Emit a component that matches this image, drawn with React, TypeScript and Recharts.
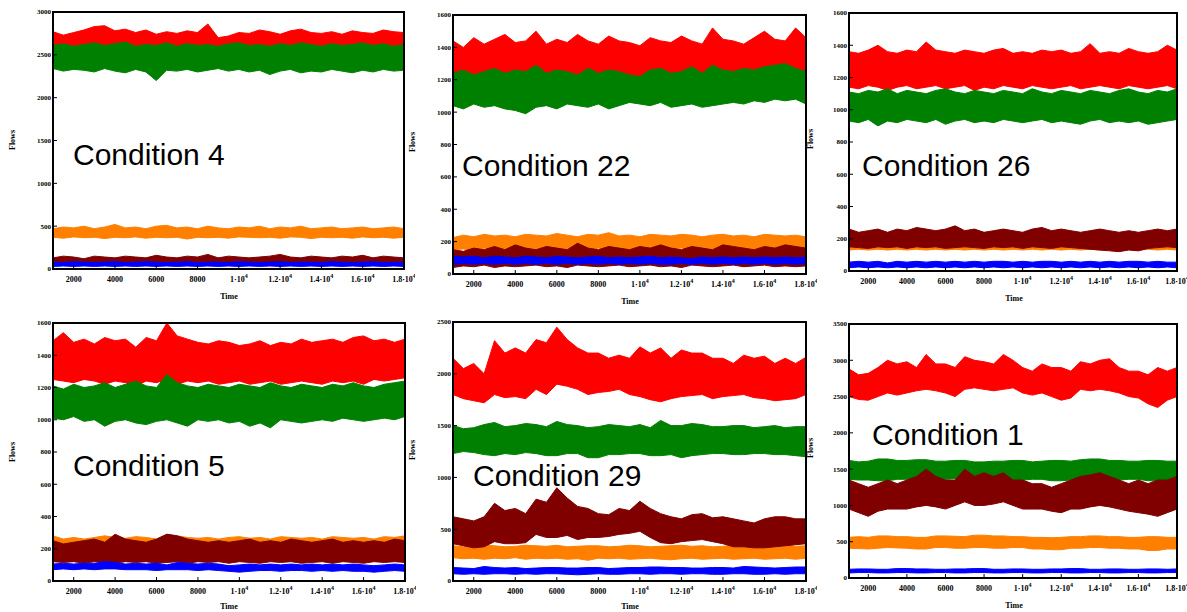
import { Area, ComposedChart, XAxis, YAxis } from "recharts";

// sample times (x axis)
const times = [1000, 1500, 2000, 2500, 3000, 3500, 4000, 4500, 5000, 5500, 6000, 6500, 7000, 7500, 8000, 8500, 9000, 9500, 10000, 10500, 11000, 11500, 12000, 12500, 13000, 13500, 14000, 14500, 15000, 15500, 16000, 16500, 17000, 17500, 18000];
const timeTicks = [2000, 4000, 6000, 8000, 10000, 12000, 14000, 16000, 18000];

// each flow is a noisy band: low and high edge read at each sample time

// Condition 4
const c4RedLo = [2550, 2560, 2540, 2570, 2550, 2540, 2560, 2550, 2540, 2570, 2550, 2560, 2540, 2550, 2570, 2560, 2540, 2550, 2560, 2540, 2570, 2550, 2560, 2540, 2550, 2570, 2560, 2540, 2550, 2560, 2540, 2570, 2550, 2560, 2550];
const c4RedHi = [2770, 2730, 2760, 2790, 2830, 2840, 2780, 2800, 2760, 2790, 2740, 2770, 2750, 2780, 2760, 2860, 2700, 2720, 2760, 2750, 2790, 2770, 2740, 2780, 2800, 2760, 2750, 2770, 2740, 2780, 2760, 2750, 2790, 2770, 2760];
const c4GreenLo = [2340, 2310, 2330, 2320, 2300, 2340, 2310, 2290, 2330, 2300, 2200, 2320, 2310, 2330, 2300, 2320, 2340, 2310, 2330, 2300, 2320, 2270, 2310, 2330, 2290, 2310, 2300, 2330, 2310, 2290, 2320, 2300, 2330, 2310, 2320];
const c4GreenHi = [2610, 2630, 2600, 2620, 2640, 2610, 2630, 2650, 2600, 2620, 2610, 2640, 2600, 2630, 2610, 2620, 2600, 2630, 2640, 2610, 2620, 2600, 2630, 2610, 2640, 2620, 2600, 2630, 2610, 2620, 2640, 2610, 2630, 2600, 2620];
const c4OrangeLo = [370, 360, 375, 365, 370, 355, 370, 365, 375, 360, 370, 365, 370, 350, 370, 365, 370, 360, 375, 370, 365, 370, 360, 375, 370, 355, 370, 365, 370, 360, 375, 365, 370, 360, 370];
const c4OrangeHi = [470, 490, 480, 500, 470, 490, 520, 480, 490, 470, 500, 510, 480, 490, 470, 500, 480, 470, 490, 480, 500, 470, 490, 480, 500, 470, 480, 490, 470, 480, 490, 470, 480, 490, 470];
const c4MaroonLo = [55, 60, 50, 60, 55, 50, 60, 55, 60, 50, 55, 60, 50, 60, 55, 50, 60, 55, 50, 60, 55, 50, 60, 55, 60, 50, 55, 60, 50, 55, 60, 50, 55, 60, 55];
const c4MaroonHi = [130, 150, 140, 120, 150, 140, 130, 150, 140, 130, 160, 140, 130, 150, 140, 170, 130, 150, 140, 130, 140, 150, 170, 140, 130, 150, 140, 130, 150, 140, 160, 130, 150, 140, 130];
const c4BlueLo = [30, 35, 30, 35, 30, 35, 30, 35, 30, 35, 30, 35, 30, 35, 30, 35, 30, 35, 30, 35, 30, 35, 30, 35, 30, 35, 30, 35, 30, 35, 30, 35, 30, 35, 30];
const c4BlueHi = [80, 75, 85, 80, 75, 80, 85, 75, 80, 85, 80, 75, 80, 85, 75, 80, 80, 75, 85, 80, 75, 80, 85, 75, 80, 80, 75, 85, 80, 75, 80, 85, 75, 80, 80];

// Condition 22
const c22RedLo = [1210, 1220, 1200, 1230, 1210, 1200, 1220, 1210, 1230, 1200, 1210, 1220, 1200, 1230, 1210, 1200, 1220, 1190, 1210, 1220, 1230, 1210, 1200, 1220, 1210, 1200, 1230, 1210, 1220, 1200, 1230, 1220, 1210, 1200, 1220];
const c22RedHi = [1440, 1400, 1460, 1420, 1450, 1480, 1430, 1440, 1500, 1420, 1450, 1430, 1480, 1440, 1420, 1470, 1440, 1430, 1410, 1460, 1440, 1430, 1470, 1440, 1420, 1520, 1450, 1440, 1420, 1460, 1500, 1450, 1440, 1520, 1460];
const c22GreenLo = [1040, 1020, 1050, 1030, 1040, 1020, 1010, 990, 1030, 1040, 1020, 1050, 1040, 1030, 1050, 1020, 1040, 1060, 1050, 1040, 1060, 1030, 1040, 1050, 1030, 1040, 1050, 1060, 1050, 1070, 1060, 1080, 1070, 1080, 1050];
const c22GreenHi = [1240, 1260, 1230, 1250, 1270, 1240, 1260, 1250, 1290, 1240, 1260, 1250, 1230, 1270, 1240, 1260, 1250, 1230, 1220, 1260, 1270, 1240, 1250, 1280, 1240, 1290, 1260, 1250, 1270, 1260, 1280, 1290, 1300, 1270, 1250];
const c22OrangeLo = [150, 155, 145, 160, 150, 155, 150, 160, 155, 150, 160, 150, 155, 145, 160, 150, 155, 150, 160, 155, 150, 155, 160, 150, 155, 150, 160, 155, 150, 155, 160, 150, 155, 150, 155];
const c22OrangeHi = [225, 240, 230, 245, 235, 240, 230, 245, 240, 235, 250, 240, 230, 245, 240, 255, 235, 240, 230, 245, 240, 235, 245, 240, 230, 240, 245, 235, 240, 230, 245, 240, 235, 240, 230];
const c22MaroonLo = [40, 50, 45, 55, 40, 50, 45, 50, 55, 45, 50, 40, 55, 50, 45, 50, 55, 45, 50, 55, 45, 50, 40, 55, 50, 45, 50, 55, 45, 50, 55, 45, 50, 45, 50];
const c22MaroonHi = [150, 140, 160, 150, 170, 150, 180, 160, 150, 170, 160, 150, 190, 160, 150, 170, 160, 150, 170, 160, 180, 160, 150, 170, 160, 150, 180, 170, 160, 150, 170, 160, 180, 170, 160];
const c22BlueLo = [60, 65, 60, 65, 60, 65, 60, 65, 60, 65, 60, 65, 60, 65, 60, 65, 60, 65, 60, 65, 60, 60, 65, 60, 65, 60, 65, 60, 65, 60, 65, 60, 65, 60, 65];
const c22BlueHi = [110, 105, 110, 100, 110, 105, 100, 110, 105, 100, 110, 105, 100, 105, 110, 100, 105, 100, 105, 110, 100, 105, 100, 95, 105, 100, 105, 100, 105, 100, 105, 100, 105, 100, 105];

// Condition 26
const c26RedLo = [1140, 1130, 1150, 1140, 1120, 1140, 1150, 1130, 1140, 1150, 1130, 1140, 1150, 1120, 1140, 1130, 1150, 1140, 1130, 1150, 1140, 1130, 1140, 1150, 1130, 1140, 1150, 1140, 1130, 1150, 1140, 1130, 1140, 1150, 1130];
const c26RedHi = [1360, 1350, 1370, 1400, 1360, 1350, 1370, 1360, 1420, 1370, 1360, 1350, 1370, 1360, 1350, 1370, 1380, 1350, 1360, 1350, 1370, 1360, 1370, 1350, 1360, 1410, 1350, 1360, 1350, 1380, 1360, 1350, 1360, 1400, 1370];
const c26GreenLo = [930, 920, 940, 900, 930, 920, 940, 930, 920, 940, 910, 930, 940, 920, 930, 920, 940, 930, 920, 930, 940, 920, 930, 920, 910, 930, 940, 920, 930, 920, 930, 910, 920, 930, 940];
const c26GreenHi = [1110, 1100, 1120, 1110, 1130, 1100, 1120, 1110, 1100, 1120, 1130, 1110, 1100, 1120, 1110, 1100, 1120, 1110, 1100, 1130, 1110, 1100, 1120, 1110, 1100, 1120, 1110, 1100, 1120, 1130, 1110, 1100, 1120, 1110, 1130];
const c26OrangeLo = [130, 135, 130, 135, 130, 135, 130, 135, 130, 135, 130, 135, 130, 135, 130, 135, 130, 135, 130, 135, 130, 135, 130, 135, 130, 135, 130, 135, 130, 135, 130, 135, 130, 135, 130];
const c26OrangeHi = [170, 165, 170, 160, 170, 165, 170, 160, 170, 165, 170, 160, 165, 170, 160, 170, 165, 170, 160, 170, 165, 170, 160, 165, 170, 165, 160, 170, 165, 170, 165, 170, 160, 165, 170];
const c26MaroonLo = [150, 145, 140, 150, 145, 150, 140, 150, 145, 150, 140, 145, 150, 145, 140, 150, 145, 150, 140, 150, 145, 140, 150, 145, 140, 135, 130, 125, 120, 130, 125, 140, 145, 150, 145];
const c26MaroonHi = [260, 240, 250, 260, 240, 260, 250, 270, 260, 250, 260, 280, 250, 260, 240, 250, 260, 250, 240, 260, 270, 250, 260, 250, 240, 250, 260, 250, 240, 250, 240, 250, 260, 250, 260];
const c26BlueLo = [20, 25, 20, 25, 20, 25, 20, 25, 20, 25, 20, 25, 20, 25, 20, 25, 20, 25, 20, 25, 20, 25, 20, 25, 20, 25, 20, 25, 20, 25, 20, 25, 20, 25, 20];
const c26BlueHi = [55, 60, 55, 60, 50, 60, 55, 60, 55, 60, 55, 60, 55, 60, 55, 60, 60, 55, 60, 55, 60, 60, 55, 60, 55, 60, 55, 60, 55, 60, 60, 55, 60, 55, 55];

// Condition 5
const c5RedLo = [1250, 1240, 1230, 1250, 1240, 1220, 1240, 1230, 1210, 1240, 1230, 1250, 1220, 1240, 1230, 1240, 1220, 1230, 1240, 1220, 1230, 1240, 1220, 1230, 1240, 1230, 1220, 1240, 1230, 1240, 1220, 1250, 1240, 1250, 1260];
const c5RedHi = [1490, 1540, 1480, 1500, 1470, 1510, 1490, 1500, 1450, 1510, 1490, 1600, 1520, 1500, 1480, 1470, 1490, 1480, 1460, 1470, 1490, 1460, 1480, 1470, 1500, 1480, 1490, 1500, 1480, 1510, 1520, 1490, 1500, 1480, 1500];
const c5GreenLo = [1010, 1000, 1020, 990, 1000, 960, 990, 1000, 980, 970, 990, 1000, 980, 960, 1000, 990, 1000, 980, 990, 960, 980, 950, 1000, 990, 980, 990, 1000, 990, 1010, 1000, 990, 1000, 1010, 1000, 1020];
const c5GreenHi = [1210, 1190, 1220, 1200, 1210, 1230, 1200, 1220, 1240, 1210, 1200, 1280, 1230, 1210, 1200, 1220, 1210, 1200, 1220, 1210, 1200, 1230, 1210, 1200, 1220, 1210, 1200, 1220, 1210, 1230, 1210, 1200, 1220, 1230, 1240];
const c5OrangeLo = [210, 200, 210, 205, 210, 200, 205, 210, 200, 210, 205, 200, 210, 205, 200, 210, 205, 210, 200, 205, 210, 200, 205, 210, 200, 205, 210, 200, 205, 210, 200, 210, 205, 200, 210];
const c5OrangeHi = [280, 260, 270, 260, 270, 280, 270, 265, 275, 270, 260, 290, 280, 270, 265, 270, 260, 270, 275, 265, 270, 260, 275, 270, 265, 270, 260, 275, 270, 265, 270, 260, 275, 270, 280];
const c5MaroonLo = [120, 115, 120, 110, 120, 115, 110, 120, 115, 120, 110, 115, 120, 110, 120, 115, 120, 110, 120, 115, 110, 120, 115, 120, 110, 115, 120, 110, 120, 115, 110, 120, 115, 120, 115];
const c5MaroonHi = [250, 230, 240, 250, 260, 240, 290, 260, 250, 240, 260, 290, 280, 260, 250, 240, 250, 240, 250, 260, 240, 250, 240, 260, 250, 240, 250, 260, 240, 250, 240, 250, 240, 260, 250];
const c5BlueLo = [70, 75, 70, 75, 70, 75, 75, 70, 70, 70, 65, 70, 70, 70, 65, 70, 65, 60, 55, 60, 65, 65, 60, 65, 65, 60, 65, 60, 65, 60, 60, 55, 60, 65, 60];
const c5BlueHi = [105, 110, 105, 110, 110, 120, 115, 105, 110, 105, 110, 100, 115, 110, 105, 110, 105, 95, 100, 105, 100, 105, 100, 105, 100, 105, 100, 105, 100, 105, 100, 95, 100, 105, 100];

// Condition 29
const c29RedLo = [1800, 1760, 1740, 1720, 1800, 1770, 1780, 1760, 1850, 1800, 1900, 1880, 1850, 1800, 1820, 1830, 1850, 1800, 1780, 1750, 1730, 1760, 1780, 1790, 1800, 1760, 1780, 1790, 1800, 1770, 1760, 1740, 1750, 1760, 1800];
const c29RedHi = [2150, 2050, 2100, 2000, 2320, 2200, 2250, 2200, 2330, 2300, 2450, 2330, 2250, 2200, 2200, 2150, 2180, 2150, 2260, 2200, 2250, 2150, 2230, 2200, 2200, 2150, 2150, 2100, 2180, 2150, 2170, 2100, 2150, 2100, 2160];
const c29GreenLo = [1230, 1250, 1240, 1220, 1210, 1230, 1220, 1240, 1230, 1210, 1210, 1230, 1230, 1190, 1190, 1220, 1220, 1230, 1230, 1210, 1210, 1220, 1190, 1210, 1220, 1230, 1230, 1220, 1220, 1230, 1230, 1220, 1220, 1210, 1200];
const c29GreenHi = [1500, 1470, 1480, 1510, 1530, 1490, 1500, 1520, 1510, 1490, 1540, 1510, 1500, 1480, 1490, 1510, 1500, 1490, 1510, 1480, 1550, 1500, 1500, 1520, 1510, 1490, 1490, 1500, 1500, 1480, 1490, 1500, 1480, 1490, 1490];
const c29OrangeLo = [225, 215, 220, 210, 220, 215, 225, 210, 220, 215, 220, 210, 215, 200, 220, 215, 220, 210, 215, 220, 210, 205, 215, 220, 210, 215, 220, 210, 215, 220, 210, 215, 220, 210, 220];
const c29OrangeHi = [340, 330, 335, 345, 340, 330, 335, 345, 340, 335, 345, 330, 335, 340, 340, 330, 335, 345, 340, 330, 335, 340, 345, 335, 340, 330, 335, 345, 340, 330, 335, 340, 345, 335, 340];
const c29MaroonLo = [360, 340, 320, 330, 380, 360, 360, 370, 450, 420, 420, 440, 400, 420, 420, 430, 450, 460, 480, 420, 370, 360, 380, 390, 400, 380, 360, 330, 330, 320, 320, 330, 340, 350, 360];
const c29MaroonHi = [620, 600, 580, 620, 750, 680, 700, 650, 790, 760, 900, 800, 720, 700, 650, 640, 700, 680, 770, 700, 650, 620, 600, 640, 650, 610, 620, 600, 580, 560, 600, 620, 620, 600, 600];
const c29BlueLo = [70, 65, 70, 65, 70, 70, 65, 70, 65, 70, 70, 65, 60, 65, 70, 65, 65, 70, 70, 65, 70, 70, 65, 70, 70, 65, 65, 70, 70, 65, 65, 70, 65, 70, 70];
const c29BlueHi = [130, 125, 120, 140, 130, 125, 130, 120, 125, 130, 130, 125, 125, 130, 130, 120, 125, 130, 130, 135, 135, 130, 130, 125, 125, 130, 130, 125, 140, 135, 130, 125, 130, 135, 135];

// Condition 1
const c1RedLo = [2500, 2460, 2450, 2500, 2550, 2520, 2550, 2580, 2600, 2580, 2550, 2500, 2600, 2620, 2600, 2580, 2600, 2620, 2550, 2520, 2550, 2500, 2450, 2480, 2600, 2580, 2600, 2580, 2550, 2500, 2480, 2400, 2350, 2450, 2500];
const c1RedHi = [2880, 2800, 2820, 2900, 3000, 2950, 2980, 2900, 3080, 2950, 2950, 2900, 3050, 3000, 2980, 2950, 3080, 3000, 2900, 2850, 2950, 2900, 2900, 2850, 2980, 2950, 3000, 3020, 2900, 2850, 2850, 2800, 2900, 2850, 2900];
const c1GreenLo = [1360, 1350, 1350, 1340, 1340, 1360, 1360, 1350, 1350, 1360, 1360, 1370, 1370, 1350, 1350, 1360, 1360, 1350, 1350, 1360, 1360, 1340, 1340, 1350, 1350, 1360, 1360, 1350, 1350, 1360, 1360, 1340, 1340, 1350, 1350];
const c1GreenHi = [1620, 1600, 1610, 1640, 1640, 1620, 1620, 1630, 1630, 1610, 1610, 1620, 1620, 1600, 1600, 1610, 1610, 1620, 1620, 1600, 1610, 1620, 1620, 1610, 1630, 1640, 1640, 1620, 1620, 1610, 1610, 1620, 1620, 1610, 1610];
const c1OrangeLo = [410, 405, 400, 410, 420, 415, 410, 400, 400, 420, 420, 410, 410, 420, 420, 410, 410, 420, 420, 400, 400, 390, 390, 410, 410, 420, 420, 410, 410, 400, 400, 380, 380, 400, 400];
const c1OrangeHi = [560, 570, 560, 580, 580, 570, 570, 560, 560, 580, 580, 575, 570, 590, 590, 580, 580, 570, 570, 560, 560, 555, 560, 570, 570, 580, 580, 570, 570, 560, 560, 570, 570, 560, 560];
const c1MaroonLo = [950, 900, 850, 920, 950, 950, 950, 980, 1000, 980, 950, 1000, 1050, 1000, 1000, 1020, 1050, 1000, 950, 950, 950, 920, 900, 950, 950, 980, 1000, 980, 950, 920, 900, 880, 850, 900, 950];
const c1MaroonHi = [1350, 1300, 1250, 1300, 1350, 1300, 1350, 1400, 1500, 1400, 1350, 1350, 1500, 1400, 1450, 1400, 1450, 1350, 1350, 1300, 1300, 1250, 1300, 1350, 1400, 1420, 1450, 1400, 1350, 1300, 1350, 1300, 1350, 1350, 1400];
const c1BlueLo = [70, 75, 75, 70, 70, 75, 75, 70, 70, 75, 75, 70, 70, 75, 75, 70, 70, 75, 75, 70, 70, 75, 75, 70, 70, 75, 75, 70, 70, 75, 75, 70, 70, 75, 75];
const c1BlueHi = [120, 125, 125, 120, 120, 130, 130, 125, 125, 120, 120, 125, 125, 130, 130, 120, 120, 125, 125, 120, 120, 125, 125, 130, 130, 120, 120, 125, 125, 120, 120, 125, 125, 120, 125];

const COLORS: Record<string, string> = {
    red: "#ff0000",
    green: "#008000",
    orange: "#ff8000",
    maroon: "#800000",
    blue: "#0000ff",
};
// drawing order, later ones sit on top
const ORDER = ["red", "green", "orange", "maroon", "blue"];

const panels = [
    { title: "Condition 4", x: 53, y: 12, w: 351, h: 257, yMax: 3000, yTicks: [0, 500, 1000, 1500, 2000, 2500, 3000], titleAt: [73, 165], flowsAt: [13, 140], timeAt: [229, 297],
      lo: { red: c4RedLo, green: c4GreenLo, orange: c4OrangeLo, maroon: c4MaroonLo, blue: c4BlueLo },
      hi: { red: c4RedHi, green: c4GreenHi, orange: c4OrangeHi, maroon: c4MaroonHi, blue: c4BlueHi } },
    { title: "Condition 22", x: 453, y: 15, w: 353, h: 259, yMax: 1600, yTicks: [0, 200, 400, 600, 800, 1000, 1200, 1400, 1600], titleAt: [462, 176], flowsAt: [413, 142], timeAt: [630, 302],
      lo: { red: c22RedLo, green: c22GreenLo, orange: c22OrangeLo, maroon: c22MaroonLo, blue: c22BlueLo },
      hi: { red: c22RedHi, green: c22GreenHi, orange: c22OrangeHi, maroon: c22MaroonHi, blue: c22BlueHi } },
    { title: "Condition 26", x: 849, y: 13, w: 328, h: 258, yMax: 1600, yTicks: [0, 200, 400, 600, 800, 1000, 1200, 1400, 1600], titleAt: [862, 176], flowsAt: [811, 139], timeAt: [1014, 299],
      lo: { red: c26RedLo, green: c26GreenLo, orange: c26OrangeLo, maroon: c26MaroonLo, blue: c26BlueLo },
      hi: { red: c26RedHi, green: c26GreenHi, orange: c26OrangeHi, maroon: c26MaroonHi, blue: c26BlueHi } },
    { title: "Condition 5", x: 53, y: 323, w: 352, h: 258, yMax: 1600, yTicks: [0, 200, 400, 600, 800, 1000, 1200, 1400, 1600], titleAt: [73, 476], flowsAt: [13, 452], timeAt: [229, 607],
      lo: { red: c5RedLo, green: c5GreenLo, orange: c5OrangeLo, maroon: c5MaroonLo, blue: c5BlueLo },
      hi: { red: c5RedHi, green: c5GreenHi, orange: c5OrangeHi, maroon: c5MaroonHi, blue: c5BlueHi } },
    { title: "Condition 29", x: 453, y: 322, w: 353, h: 259, yMax: 2500, yTicks: [0, 500, 1000, 1500, 2000, 2500], titleAt: [473, 486], flowsAt: [413, 450], timeAt: [630, 607],
      lo: { red: c29RedLo, green: c29GreenLo, orange: c29OrangeLo, maroon: c29MaroonLo, blue: c29BlueLo },
      hi: { red: c29RedHi, green: c29GreenHi, orange: c29OrangeHi, maroon: c29MaroonHi, blue: c29BlueHi } },
    { title: "Condition 1", x: 849, y: 324, w: 328, h: 254, yMax: 3500, yTicks: [0, 500, 1000, 1500, 2000, 2500, 3000, 3500], titleAt: [872, 445], flowsAt: [811, 448], timeAt: [1014, 606],
      lo: { red: c1RedLo, green: c1GreenLo, orange: c1OrangeLo, maroon: c1MaroonLo, blue: c1BlueLo },
      hi: { red: c1RedHi, green: c1GreenHi, orange: c1OrangeHi, maroon: c1MaroonHi, blue: c1BlueHi } },
];

type PanelSpec = (typeof panels)[number];

const SERIF = "'Liberation Serif', 'Times New Roman', serif";
const SANS = "'Liberation Sans', Arial, sans-serif";

// one row per sample time, every flow as a [low, high] range
const buildRows = (p: PanelSpec) =>
    times.map((t, i) => {
        const row: Record<string, any> = { t };
        ORDER.forEach((k) => {
            row[k] = [(p.lo as any)[k][i], (p.hi as any)[k][i]];
        });
        return row;
    });

// built once so the charts get stable data
const panelRows = panels.map(buildRows);

// 2000 .. 8000 plain, from 1e4 on written as m·10^4
const TimeTick = ({ x, y, payload }: any) => {
    const v = payload.value as number;
    if (v < 10000) {
        return <text x={x} y={y + 13} textAnchor="middle" fontSize={8} fill="#000">{v}</text>;
    }
    return (
        <text x={x} y={y + 13} textAnchor="middle" fontSize={8} fill="#000">
            {`${v / 10000}·10`}
            <tspan dy={-4} fontSize={6}>4</tspan>
        </text>
    );
};

const FlowChart = ({ p, data }: { p: PanelSpec; data: any[] }) => {
    const line = { stroke: "#000", strokeWidth: 1.5 };
    const tickLine = { stroke: "#000", strokeWidth: 1 };
    return (
        <div style={{ position: "absolute", left: p.x - 50, top: p.y - 11, fontFamily: SERIF, fontWeight: 700 }}>
            <ComposedChart width={p.w + 61} height={p.h + 41} data={data} margin={{ top: 10, right: 10, bottom: 0, left: 0 }}>
                {ORDER.map((k) => (
                    <Area
                        key={k}
                        xAxisId="b"
                        yAxisId="l"
                        dataKey={k}
                        type="linear"
                        stroke={COLORS[k]}
                        strokeWidth={1}
                        fill={COLORS[k]}
                        fillOpacity={1}
                        dot={false}
                        activeDot={false}
                        isAnimationActive={false}
                    />
                ))}
                <XAxis
                    xAxisId="b"
                    dataKey="t"
                    type="number"
                    domain={[1000, 18000]}
                    ticks={timeTicks}
                    interval={0}
                    height={30}
                    stroke="#000"
                    tickSize={-4}
                    tickMargin={4}
                    axisLine={line}
                    tickLine={tickLine}
                    tick={<TimeTick />}
                />
                <XAxis
                    xAxisId="t"
                    orientation="top"
                    dataKey="t"
                    type="number"
                    domain={[1000, 18000]}
                    ticks={timeTicks}
                    interval={0}
                    height={1}
                    stroke="#000"
                    tickSize={-4}
                    axisLine={line}
                    tickLine={tickLine}
                    tick={false}
                />
                <YAxis
                    yAxisId="l"
                    type="number"
                    domain={[0, p.yMax]}
                    ticks={p.yTicks}
                    interval={0}
                    width={50}
                    stroke="#000"
                    tickSize={-4}
                    tickMargin={6}
                    axisLine={line}
                    tickLine={tickLine}
                    tick={{ fontSize: 7, fill: "#000" }}
                />
                <YAxis
                    yAxisId="r"
                    orientation="right"
                    type="number"
                    domain={[0, p.yMax]}
                    ticks={p.yTicks}
                    interval={0}
                    width={1}
                    stroke="#000"
                    tickSize={-4}
                    axisLine={line}
                    tickLine={tickLine}
                    tick={false}
                />
            </ComposedChart>
            <div style={{ position: "absolute", left: p.titleAt[0] - p.x + 50, top: p.titleAt[1] - p.y + 11 - 25.4, fontFamily: SANS, fontWeight: 400, fontSize: 30, lineHeight: "30px", whiteSpace: "nowrap", color: "#000" }}>
                {p.title}
            </div>
            <div style={{ position: "absolute", left: p.flowsAt[0] - p.x + 50, top: p.flowsAt[1] - p.y + 11, transform: "translate(-50%, -50%) rotate(-90deg)", fontSize: 8, lineHeight: 1, whiteSpace: "nowrap" }}>
                Flows
            </div>
            <div style={{ position: "absolute", left: p.timeAt[0] - p.x + 50, top: p.timeAt[1] - p.y + 11, transform: "translate(-50%, -50%)", fontSize: 8, lineHeight: 1, whiteSpace: "nowrap" }}>
                Time
            </div>
        </div>
    );
};

export default function App() {
    return (
        <div style={{ position: "absolute", left: 0, top: 0, width: 1187, height: 612, background: "#fff", overflow: "hidden" }}>
            {panels.map((p, i) => (
                <FlowChart key={p.title} p={p} data={panelRows[i]} />
            ))}
            {/* plot frames, kept on top of every chart */}
            {panels.map((p) => (
                <div
                    key={`frame-${p.title}`}
                    style={{
                        position: "absolute",
                        zIndex: 10,
                        left: p.x - 1,
                        top: p.y - 1,
                        width: p.w + 2,
                        height: p.h + 2,
                        boxSizing: "border-box",
                        borderWidth: 2,
                        borderStyle: "solid",
                        borderColor: "#000",
                        pointerEvents: "none",
                    }}
                />
            ))}
        </div>
    );
}
